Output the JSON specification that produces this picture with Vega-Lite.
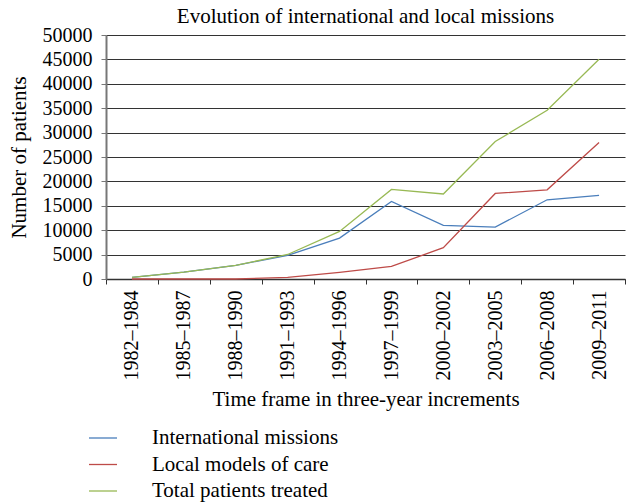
{
  "$schema": "https://vega.github.io/schema/vega-lite/v6.json",
  "autosize": "none",
  "width": 519,
  "height": 244,
  "padding": {"left": 106, "top": 35, "right": 3, "bottom": 223},
  "background": "white",
  "config": {
    "font": "Liberation Serif",
    "view": {"stroke": null},
    "title": {"font": "Liberation Serif", "fontSize": 21, "fontWeight": "normal", "color": "#000", "offset": 4, "dy": 6},
    "axis": {"labelFont": "Liberation Serif", "titleFont": "Liberation Serif", "labelColor": "#000", "titleColor": "#000", "titleFontWeight": "normal"}
  },
  "title": {"text": "Evolution of international and local missions"},
  "data": {"values": [
    {"period": "1982–1984", "series": "International missions", "value": 340},
    {"period": "1985–1987", "series": "International missions", "value": 1430},
    {"period": "1988–1990", "series": "International missions", "value": 2800},
    {"period": "1991–1993", "series": "International missions", "value": 4840},
    {"period": "1994–1996", "series": "International missions", "value": 8390},
    {"period": "1997–1999", "series": "International missions", "value": 15890},
    {"period": "2000–2002", "series": "International missions", "value": 10980},
    {"period": "2003–2005", "series": "International missions", "value": 10640},
    {"period": "2006–2008", "series": "International missions", "value": 16230},
    {"period": "2009–2011", "series": "International missions", "value": 17120},
    {"period": "1982–1984", "series": "Local models of care", "value": 0},
    {"period": "1985–1987", "series": "Local models of care", "value": 0},
    {"period": "1988–1990", "series": "Local models of care", "value": 0},
    {"period": "1991–1993", "series": "Local models of care", "value": 340},
    {"period": "1994–1996", "series": "Local models of care", "value": 1360},
    {"period": "1997–1999", "series": "Local models of care", "value": 2590},
    {"period": "2000–2002", "series": "Local models of care", "value": 6410},
    {"period": "2003–2005", "series": "Local models of care", "value": 17530},
    {"period": "2006–2008", "series": "Local models of care", "value": 18280},
    {"period": "2009–2011", "series": "Local models of care", "value": 27970},
    {"period": "1982–1984", "series": "Total patients treated", "value": 340},
    {"period": "1985–1987", "series": "Total patients treated", "value": 1430},
    {"period": "1988–1990", "series": "Total patients treated", "value": 2800},
    {"period": "1991–1993", "series": "Total patients treated", "value": 5020},
    {"period": "1994–1996", "series": "Total patients treated", "value": 9750},
    {"period": "1997–1999", "series": "Total patients treated", "value": 18350},
    {"period": "2000–2002", "series": "Total patients treated", "value": 17420},
    {"period": "2003–2005", "series": "Total patients treated", "value": 28170},
    {"period": "2006–2008", "series": "Total patients treated", "value": 34580},
    {"period": "2009–2011", "series": "Total patients treated", "value": 45020}
  ]},
  "mark": {"type": "line", "strokeWidth": 1.3},
  "encoding": {
    "x": {
      "field": "period", "type": "ordinal", "sort": null,
      "scale": {"type": "band", "paddingInner": 0, "paddingOuter": 0},
      "axis": {
        "title": "Time frame in three-year increments",
        "titleFont": "Liberation Serif", "labelFont": "Liberation Serif",
        "titleFontSize": 21, "titlePadding": 8,
        "labelAngle": -90, "labelFontSize": 20, "labelPadding": 6,
        "bandPosition": 0, "tickBand": "extent",
        "ticks": true, "tickSize": 5, "tickColor": "#333", "tickWidth": 1,
        "domainColor": "#333", "domainWidth": 1.5,
        "grid": false
      }
    },
    "y": {
      "field": "value", "type": "quantitative",
      "scale": {"domain": [0, 50000], "nice": false},
      "axis": {
        "title": "Number of patients", "titleFontSize": 21, "titlePadding": 13,
        "titleFont": "Liberation Serif", "labelFont": "Liberation Serif",
        "values": [0, 5000, 10000, 15000, 20000, 25000, 30000, 35000, 40000, 45000, 50000],
        "format": "d", "labelFontSize": 20, "labelPadding": 9,
        "tickSize": 5, "tickColor": "#777", "domainColor": "#777", "domainWidth": 2,
        "grid": true, "gridColor": "#333", "gridWidth": 1
      }
    },
    "color": {
      "field": "series", "type": "nominal",
      "scale": {"domain": ["International missions", "Local models of care", "Total patients treated"], "range": ["#4a7ebb", "#be4b48", "#98b954"]},
      "legend": {
        "title": null, "orient": "none", "legendX": -18, "legendY": 388,
        "direction": "vertical", "symbolType": "stroke", "symbolSize": 784, "symbolStrokeWidth": 1.3,
        "labelFontSize": 21, "labelFont": "Liberation Serif", "labelColor": "#000", "labelOffset": 34, "labelLimit": 400, "rowPadding": 1.5
      }
    }
  }
}
